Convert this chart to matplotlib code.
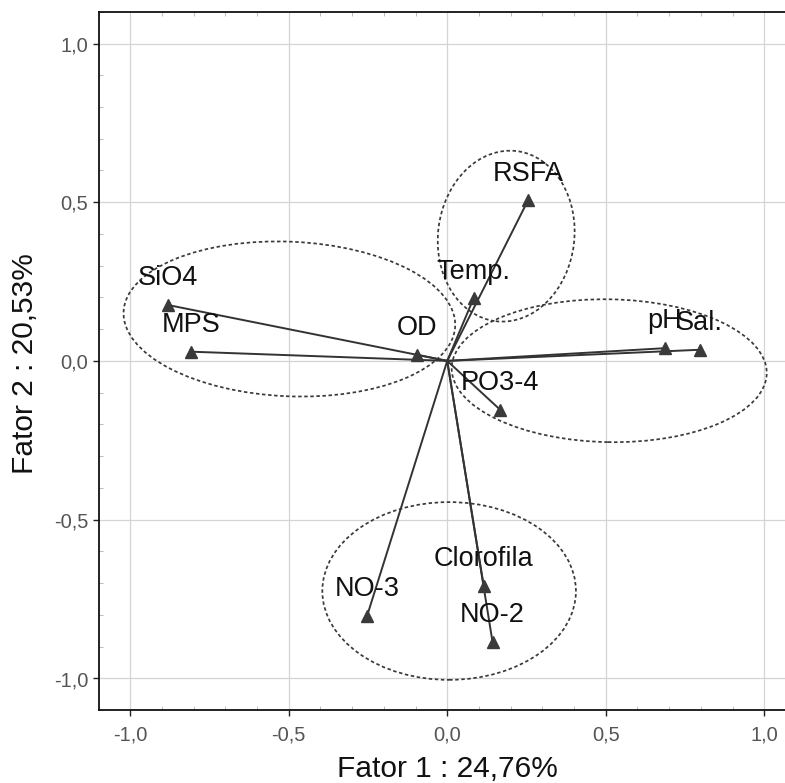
import matplotlib
matplotlib.use("Agg")
import matplotlib.pyplot as plt
from matplotlib.patches import Ellipse
from matplotlib.ticker import MultipleLocator

plt.rcParams["font.family"] = ["Liberation Sans", "DejaVu Sans"]

# cargas das variáveis nos dois fatores
variables = ["RSFA", "Temp.", "SiO4", "MPS", "OD", "pH", "Sal.",
             "PO3-4", "NO-3", "Clorofila", "NO-2"]
fator1 = [0.255, 0.083, -0.881, -0.809, -0.094, 0.686, 0.796,
          0.167, -0.253, 0.115, 0.143]
fator2 = [0.506, 0.197, 0.176, 0.029, 0.019, 0.040, 0.035,
          -0.154, -0.804, -0.708, -0.886]

# agrupamentos (centro x, centro y, largura, altura, ângulo)
groups_cx = [-0.498, 0.186, 0.511, 0.006]
groups_cy = [0.132, 0.393, -0.031, -0.725]
groups_w = [1.047, 0.43, 0.994, 0.80]
groups_h = [0.487, 0.54, 0.45, 0.56]
groups_ang = [-2.5, -7.0, -1.0, 0.0]

tick_values = [-1.0, -0.5, 0.0, 0.5, 1.0]
tick_labels = ["-1,0", "-0,5", "0,0", "0,5", "1,0"]

fig = plt.figure(figsize=(7.853, 7.833), dpi=100)
ax = fig.add_axes([0.1255, 0.0932, 0.888, 0.8914])
ax.set_xlim(-1.1, 1.1)
ax.set_ylim(-1.1, 1.1)

ax.set_xticks(tick_values)
ax.set_xticklabels(tick_labels)
ax.set_yticks(tick_values)
ax.set_yticklabels(tick_labels)
ax.xaxis.set_minor_locator(MultipleLocator(0.1))
ax.yaxis.set_minor_locator(MultipleLocator(0.1))
ax.grid(True, which="major", color="#d4d4d4", linewidth=0.9)
ax.set_axisbelow(True)

ax.tick_params(which="major", direction="out", length=4, width=1,
               labelsize=14.5, labelcolor="#555555", color="#222222")
ax.tick_params(axis="x", which="major", pad=7)
ax.tick_params(axis="y", which="major", pad=3.5)
ax.tick_params(which="minor", direction="in", length=3, width=0.6,
               color="#b0b0b0", top=True, right=False)
ax.spines["right"].set_visible(False)
for side in ["left", "bottom", "top"]:
    ax.spines[side].set_linewidth(1.3)
    ax.spines[side].set_color("#111111")

# elipses tracejadas
for cx, cy, w, h, a in zip(groups_cx, groups_cy, groups_w, groups_h, groups_ang):
    ax.add_patch(Ellipse((cx, cy), w, h, angle=a, fill=False,
                         edgecolor="#3a3a3a", linewidth=1.25,
                         linestyle=(0, (2.0, 1.5)), zorder=2))

# vetores a partir da origem
for x, y, name in zip(fator1, fator2, variables):
    ax.plot([0, x], [0, y], color="#333333", linewidth=1.4, zorder=3)
    ax.plot(x, y, marker="^", markersize=8.5, color="#3a3a3a",
            markeredgecolor="#3a3a3a", zorder=4)
    ax.annotate(name, (x, y), xytext=(0, 19.5), textcoords="offset points",
                ha="center", va="center", fontsize=19.5, color="#111111",
                zorder=5)

ax.set_xlabel("Fator 1 : 24,76%", fontsize=21.5, color="#111111")
ax.set_ylabel("Fator 2 : 20,53%", fontsize=21.5, color="#111111")
ax.xaxis.label.set_va("center")
ax.yaxis.label.set_va("center")
ax.xaxis.set_label_coords(0.5, -0.0845)
ax.yaxis.set_label_coords(-0.1055, 0.497)

fig.savefig("out.png", dpi=100)
